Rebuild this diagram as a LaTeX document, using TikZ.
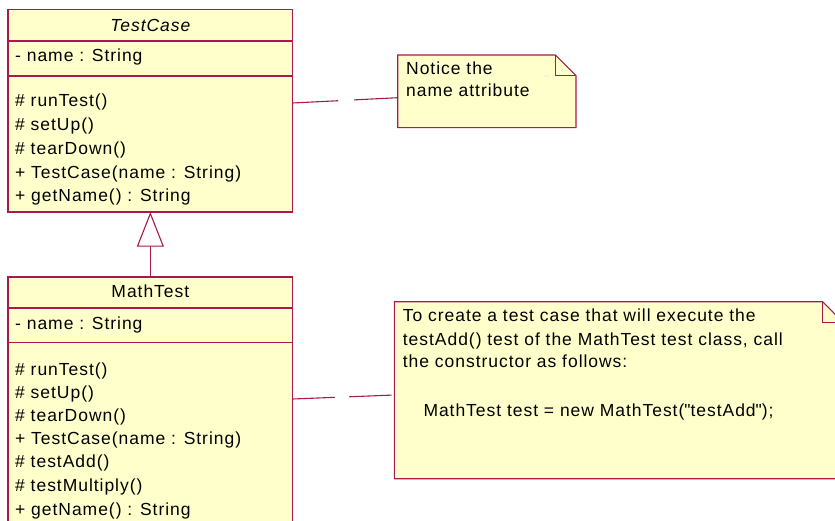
\documentclass[tikz,border=0pt]{standalone}
\usepackage{fontspec}
\setmainfont{Liberation Sans}[LetterSpace=5.5]
\usetikzlibrary{arrows.meta}
\definecolor{umlfill}{RGB}{255,255,204}
\definecolor{umlline}{RGB}{170,25,75}
\newcommand\umlf{\fontsize{17.5}{20}\selectfont}
\begin{document}
\begin{tikzpicture}[x=1pt,y=-1pt,
  every node/.append style={font=\umlf},
  box/.style={draw=umlline, fill=umlfill, line width=1.1pt, anchor=north west, inner sep=0pt, outer sep=0pt},
  notebox/.style={anchor=north west, inner sep=0pt, outer sep=0pt},
  noteline/.style={draw=umlline, fill=umlfill, line width=1.1pt, line join=miter},
  sep/.style={draw=umlline, line width=1.1pt},
  txt/.style={anchor=base west, inner sep=0pt},
  title/.style={anchor=base, inner sep=0pt},
  link/.style={draw=umlline, line width=1.1pt}]
\useasboundingbox (0,0) rectangle (835,521);
\clip (0,0) rectangle (835,521);

% TestCase class
\node[box, minimum width=284.7pt, minimum height=202.7pt] (tcbox) at (8,9.3) {};
\coordinate (tcs1) at (8,41);
\coordinate (tcs2) at (8,76);
\draw[sep] (tcs1) -- (tcs1 -| tcbox.east);
\draw[sep] (tcs2) -- (tcs2 -| tcbox.east);
\node[title, font=\umlf\itshape] (tctitle) at (150.35,31.7) {TestCase};
\node[txt] (tcattr) at (15,62) {- name : String};
\foreach \yy/\tt [count=\i] in {107/{\# runTest()}, 131/{\# setUp()}, 155/{\# tearDown()}, 178.5/{+ TestCase(name : String)}, 202/{+ getName() : String}}
  \node[txt] (tcm\i) at (15,\yy) {\tt};

% MathTest class
\node[box, minimum width=284.7pt, minimum height=260pt] (mtbox) at (8,277) {};
\coordinate (mts1) at (8,308);
\coordinate (mts2) at (8,342.7);
\draw[sep] (mts1) -- (mts1 -| mtbox.east);
\draw[sep] (mts2) -- (mts2 -| mtbox.east);
\node[title] (mttitle) at (150.35,297.7) {MathTest};
\node[txt] (mtattr) at (15,329) {- name : String};
\foreach \yy/\tt [count=\i] in {375/{\# runTest()}, 398/{\# setUp()}, 421.7/{\# tearDown()}, 444.5/{+ TestCase(name : String)}, 467/{\# testAdd()}, 491/{\# testMultiply()}, 515/{+ getName() : String}}
  \node[txt] (mtm\i) at (15,\yy) {\tt};

% generalization
\draw[sep, line join=miter, -{Triangle[open, length=34.7pt, width=27pt, fill=white]}] (mtbox.north) -- (tcbox.south);

% Note 1
\node[notebox, minimum width=178.3pt, minimum height=72.7pt] (note1) at (397.7,55) {};
\draw[noteline] (note1.north west) -- ([xshift=-20.7pt]note1.north east) -- ([yshift=-20.7pt]note1.north east) -- (note1.south east) -- (note1.south west) -- cycle;
\draw[noteline, fill=none] ([xshift=-20.7pt]note1.north east) |- ([yshift=-20.7pt]note1.north east);
\node[txt] (n1l1) at (406,75) {Notice the};
\node[txt] (n1l2) at (406,96.7) {name attribute};

% Note 2
\node[notebox, minimum width=449pt, minimum height=177pt] (note2) at (394.3,301.7) {};
\draw[noteline] (note2.north west) -- ([xshift=-20.7pt]note2.north east) -- ([yshift=-20.7pt]note2.north east) -- (note2.south east) -- (note2.south west) -- cycle;
\draw[noteline, fill=none] ([xshift=-20.7pt]note2.north east) |- ([yshift=-20.7pt]note2.north east);
\node[txt] (n2l1) at (402.7,321.7) {To create a test case that will execute the};
\node[txt] (n2l2) at (402.7,345) {testAdd() test of the MathTest test class, call};
\node[txt] (n2l3) at (402.7,367.7) {the constructor as follows:};
\node[txt] (n2l4) at (423.3,416) {MathTest test = new MathTest(\textquotedbl testAdd\textquotedbl);};

% note links
\draw[link, dash pattern=on 45.6pt off 16pt] ([yshift=7.65pt]tcbox.east) -- ([yshift=-6.35pt]note1.west);
\draw[link, dash pattern=on 42.3pt off 14.3pt] ([yshift=8pt]mtbox.east) -- ([yshift=-4.8pt]note2.west);
\end{tikzpicture}
\end{document}
